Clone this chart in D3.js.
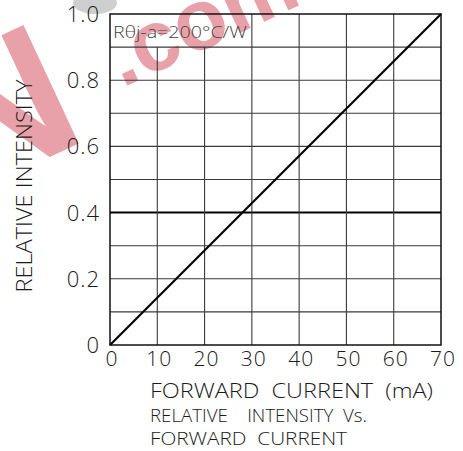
<!DOCTYPE html>
<html>
<head>
<meta charset="utf-8">
<script src="https://cdn.jsdelivr.net/npm/d3@7"></script>
<style>
  body { margin: 0; background: #fff; }
  svg text { font-family: 'Open Sans', 'Liberation Sans', sans-serif; font-weight: 300; fill: #1a1a1a; }
</style>
</head>
<body>
<svg id="graph"></svg>
<script>

// Data
const currentTicks = [0, 10, 20, 30, 40, 50, 60, 70]
const intensityTicks = [0, 0.2, 0.4, 0.6, 0.8, 1.0]
const intensityGrid = [0.1, 0.2, 0.3, 0.4, 0.5, 0.6, 0.7, 0.8, 0.9]
const forwardCurrent = [0, 70]
const relativeIntensity = [0, 1.0]

const width = 463
const height = 451
const margin = { top: 14, right: 22, bottom: 106, left: 110 }

const plot = d3.select('#graph')
  .attr('width', width)
  .attr('height', height)

const x = d3.scaleLinear()
  .domain([0, 70])
  .range([margin.left, width - margin.right])

const y = d3.scaleLinear()
  .domain([0, 1])
  .range([height - margin.bottom, margin.top])

// Watermark painted first so everything else sits over it
const mark = plot.append('g').attr('id', 'watermark')
mark.append('ellipse')
  .attr('cx', 95).attr('cy', 3).attr('rx', 22).attr('ry', 11)
  .attr('fill', '#cfcfcf')
mark.append('text')
  .attr('transform', 'translate(-34, 196) rotate(-25)')
  .style('font-family', 'Liberation Sans')
  .style('font-size', '190px')
  .style('font-weight', 'bold')
  .style('fill', '#e9a1a9')
  .text('N')
mark.append('text')
  .attr('transform', 'translate(122, 88) rotate(-25)')
  .style('font-family', 'Liberation Sans')
  .style('font-size', '86px')
  .style('font-weight', 'bold')
  .style('fill', '#e9a1a9')
  .text('.com')

// Annotation box occupies the top row, left three columns
const boxRight = x(30)
const boxBottom = y(0.9)

// Horizontal grid
plot.append('g')
  .attr('id', 'grid-y')
  .selectAll('line')
  .data(intensityGrid)
  .enter()
    .append('line')
    .attr('x1', x(0))
    .attr('x2', x(70))
    .attr('y1', d => y(d))
    .attr('y2', d => y(d))
    .attr('stroke', d => d === 0.4 ? '#000' : '#3a3a3a')
    .attr('stroke-width', d => d === 0.4 ? 2 : 1.1)

// Vertical grid, the ones under the box stop at its bottom edge
plot.append('g')
  .attr('id', 'grid-x')
  .selectAll('line')
  .data(currentTicks.slice(1, -1))
  .enter()
    .append('line')
    .attr('x1', d => x(d))
    .attr('x2', d => x(d))
    .attr('y1', y(0))
    .attr('y2', d => d < 30 ? boxBottom : y(1))
    .attr('stroke', '#3a3a3a')
    .attr('stroke-width', 1.1)

// Frame
plot.append('rect')
  .attr('x', x(0))
  .attr('y', y(1))
  .attr('width', x(70) - x(0))
  .attr('height', y(0) - y(1))
  .attr('fill', 'none')
  .attr('stroke', '#111')
  .attr('stroke-width', 1.5)

plot.append('text')
  .attr('x', x(0) + 3)
  .attr('y', y(1) + 24)
  .attr('textLength', boxRight - x(0) - 8)
  .attr('lengthAdjust', 'spacingAndGlyphs')
  .style('font-size', '17px')
  .style('fill', '#444')
  .text('R\u03b8j-a=200\u00b0C/W')

// Curve
const line = d3.line()
  .x(d => x(d[0]))
  .y(d => y(d[1]))

plot.append('path')
  .datum(d3.zip(forwardCurrent, relativeIntensity))
  .attr('d', line)
  .attr('fill', 'none')
  .attr('stroke', '#000')
  .attr('stroke-width', 2.2)

// Tick labels
plot.append('g')
  .attr('id', 'y-ticks')
  .selectAll('text')
  .data(intensityTicks)
  .enter()
    .append('text')
    .attr('x', margin.left - 10)
    .attr('y', d => y(d) + 8)
    .attr('text-anchor', 'end')
    .attr('letter-spacing', 1)
    .style('font-size', '22px')
    .text(d => d === 0 ? '0' : d3.format('.1f')(d))

plot.append('g')
  .attr('id', 'x-ticks')
  .selectAll('text')
  .data(currentTicks)
  .enter()
    .append('text')
    .attr('x', d => x(d) + 2)
    .attr('y', y(0) + 21)
    .attr('text-anchor', 'middle')
    .attr('letter-spacing', 1)
    .style('font-size', '21px')
    .text(d => d)

// Axis titles and caption
plot.append('text')
  .attr('transform', 'translate(32, 186) rotate(-90)')
  .attr('text-anchor', 'middle')
  .attr('textLength', 213)
  .attr('lengthAdjust', 'spacingAndGlyphs')
  .style('font-size', '22px')
  .text('RELATIVE  INTENSITY')

const captions = [
  { text: 'FORWARD  CURRENT  (mA)', y: 398, len: 283, size: 20 },
  { text: 'RELATIVE    INTENSITY  Vs.', y: 422, len: 217, size: 19 },
  { text: 'FORWARD  CURRENT', y: 445, len: 197, size: 19 }
]

plot.append('g')
  .attr('id', 'captions')
  .selectAll('text')
  .data(captions)
  .enter()
    .append('text')
    .attr('x', 150)
    .attr('y', d => d.y)
    .attr('textLength', d => d.len)
    .attr('lengthAdjust', 'spacingAndGlyphs')
    .style('white-space', 'pre')
    .style('font-size', d => `${d.size}px`)
    .text(d => d.text)

</script>
</body>
</html>
